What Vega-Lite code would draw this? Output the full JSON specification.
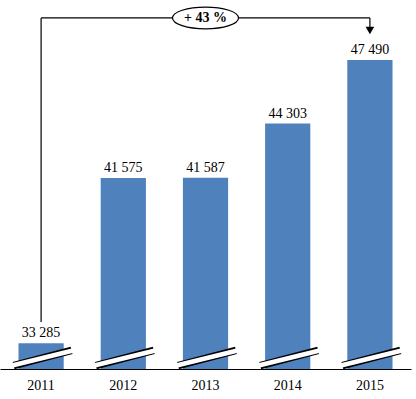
{
  "$schema": "https://vega.github.io/schema/vega-lite/v6.json",
  "autosize": "none",
  "padding": {"left": 0, "top": 0, "right": 5, "bottom": 30},
  "width": 411,
  "height": 369,
  "background": "white",
  "config": {"view": {"stroke": null}, "font": "Liberation Serif"},
  "datasets": {
    "bars": [
      {"year": "2011", "value": 33285, "label": "33 285"},
      {"year": "2012", "value": 41575, "label": "41 575"},
      {"year": "2013", "value": 41587, "label": "41 587"},
      {"year": "2014", "value": 44303, "label": "44 303"},
      {"year": "2015", "value": 47490, "label": "47 490"}
    ],
    "breaks": [
      {"year": "2011", "lo": 32175, "hi": 32928},
      {"year": "2012", "lo": 32175, "hi": 32928},
      {"year": "2013", "lo": 32175, "hi": 32928},
      {"year": "2014", "lo": 32175, "hi": 32928},
      {"year": "2015", "lo": 32175, "hi": 32928}
    ],
    "vlines": [
      {"year": "2011", "x2year": "2011", "y1": 34357, "y2": 49600},
      {"year": "2015", "x2year": "2015", "y1": 49600, "y2": 48950}
    ],
    "hline": [{"year": "2011", "x2year": "2015", "y1": 49600}],
    "arrow": [{"year": "2015", "y1": 48972}],
    "badge": [{"year": "2013", "y1": 49600, "text": "+ 43 %"}]
  },
  "layer": [
    {
      "data": {"name": "bars"},
      "mark": {"type": "bar", "color": "#4F81BD"},
      "encoding": {
        "x": {
          "field": "year", "type": "ordinal",
          "scale": {"paddingInner": 0.45, "paddingOuter": 0.225},
          "axis": {"title": null, "labelAngle": 0, "ticks": false, "domainColor": "black", "domainWidth": 1.2, "labelFont": "Liberation Serif", "labelFontSize": 14, "labelColor": "black", "labelPadding": 9, "zindex": 1}
        },
        "y": {
          "field": "value", "type": "quantitative",
          "scale": {"domain": [32000, 50500], "zero": false, "nice": false},
          "axis": null
        },
        "y2": {"datum": 32000}
      }
    },
    {
      "data": {"name": "bars"},
      "mark": {"type": "text", "baseline": "alphabetic", "dy": -6, "font": "Liberation Serif", "fontSize": 14, "color": "black"},
      "encoding": {
        "x": {"field": "year", "type": "ordinal"},
        "y": {"field": "value", "type": "quantitative"},
        "text": {"field": "label"}
      }
    },
    {
      "data": {"name": "breaks"},
      "mark": {"type": "rule", "color": "black", "strokeWidth": 7.5, "xOffset": -27.5, "x2Offset": 30.5},
      "encoding": {
        "x": {"field": "year", "type": "ordinal"},
        "x2": {"field": "year"},
        "y": {"field": "lo", "type": "quantitative"},
        "y2": {"field": "hi"}
      }
    },
    {
      "data": {"name": "breaks"},
      "mark": {"type": "rule", "color": "white", "strokeWidth": 4.8, "xOffset": -29, "x2Offset": 32},
      "encoding": {
        "x": {"field": "year", "type": "ordinal"},
        "x2": {"field": "year"},
        "y": {"field": "lo", "type": "quantitative"},
        "y2": {"field": "hi"}
      }
    },
    {
      "data": {"name": "vlines"},
      "mark": {"type": "rule", "color": "black", "strokeWidth": 1.2},
      "encoding": {
        "x": {"field": "year", "type": "ordinal"},
        "y": {"field": "y1", "type": "quantitative"},
        "y2": {"field": "y2"}
      }
    },
    {
      "data": {"name": "hline"},
      "mark": {"type": "rule", "color": "black", "strokeWidth": 1.2},
      "encoding": {
        "x": {"field": "year", "type": "ordinal"},
        "x2": {"field": "x2year"},
        "y": {"field": "y1", "type": "quantitative"}
      }
    },
    {
      "data": {"name": "arrow"},
      "mark": {"type": "point", "shape": "triangle-down", "filled": true, "color": "black", "size": 75, "opacity": 1},
      "encoding": {
        "x": {"field": "year", "type": "ordinal"},
        "y": {"field": "y1", "type": "quantitative"}
      }
    },
    {
      "data": {"name": "badge"},
      "mark": {"type": "point", "shape": "M -1,0 A 1,0.33 0 1,1 1,0 A 1,0.33 0 1,1 -1,0 Z", "filled": true, "fill": "white", "stroke": "black", "strokeWidth": 1.2, "size": 4356, "opacity": 1},
      "encoding": {
        "x": {"field": "year", "type": "ordinal"},
        "y": {"field": "y1", "type": "quantitative"}
      }
    },
    {
      "data": {"name": "badge"},
      "mark": {"type": "text", "font": "Liberation Serif", "fontSize": 14, "fontWeight": "bold", "color": "black", "baseline": "middle"},
      "encoding": {
        "x": {"field": "year", "type": "ordinal"},
        "y": {"field": "y1", "type": "quantitative"},
        "text": {"field": "text"}
      }
    }
  ]
}
